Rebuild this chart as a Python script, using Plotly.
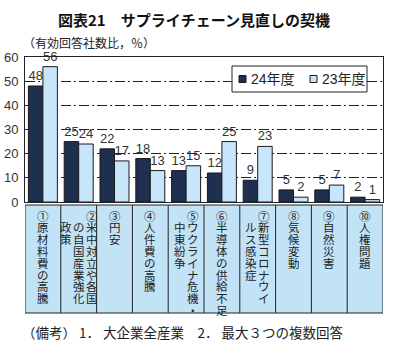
import plotly.graph_objects as go

# ---- data ----
label_cols = [
    ["①原材料費の高騰"],
    ["②米中対立や各国", "の自国産業強化", "政策"],
    ["③円安"],
    ["④人件費の高騰"],
    ["⑤ウクライナ危機・", "中東紛争"],
    ["⑥半導体の供給不足"],
    ["⑦新型コロナウイ", "ルス感染症"],
    ["⑧気候変動"],
    ["⑨自然災害"],
    ["⑩人権問題"],
]
fy24 = [48, 25, 22, 18, 13, 12, 9, 5, 5, 2]
fy23 = [56, 24, 17, 13, 15, 25, 23, 2, 7, 1]
series_names = ["24年度", "23年度"]
y_ticks = [0, 10, 20, 30, 40, 50, 60]
title_text = "図表21　サプライチェーン見直しの契機"
unit_text = "（有効回答社数比，％）"
note_text = "（備考） 1． 大企業全産業　2． 最大３つの複数回答"

# ---- layout constants ----
W, H = 401, 344
ML, MR, MT, MB = 25, 18, 57, 31
PLOT_H = H - MT - MB          # 256
PLOT_W = W - ML - MR          # 358
BAR_BOTTOM_PX = 202
TABLE_TOP_PX = 205

def py(ypix):
    return (H - MB - ypix) / PLOT_H

def px(xpix):
    return (xpix - ML) / PLOT_W

FONT = "Liberation Sans, Arial, Noto Sans CJK JP, sans-serif"
JFONT = "Noto Sans CJK JP, sans-serif"
DARK = "#1e2f4f"
LIGHT = "#c8e6f9"
TABLE = "#c2e2f6"
COLORS = [DARK, LIGHT]

x = list(range(len(fy24)))

fig = go.Figure()
for name, vals, col in zip(series_names, [fy24, fy23], COLORS):
    fig.add_trace(go.Bar(
        x=x, y=vals, name=name,
        marker=dict(color=col, line=dict(color="#1a1a1a", width=1)),
        text=[str(v) for v in vals], textposition="outside",
        textfont=dict(size=13, color="#333", family=FONT),
        cliponaxis=False, constraintext="none", showlegend=False,
    ))

# category table below the bars
shapes = [dict(type="rect", xref="x", yref="paper", x0=-0.5, x1=len(x) - 0.5,
               y0=py(H - MB), y1=py(TABLE_TOP_PX), fillcolor=TABLE,
               line=dict(color="#222", width=1), layer="below")]
for i in range(len(x) - 1):
    shapes.append(dict(type="line", xref="x", yref="paper", x0=i + 0.5, x1=i + 0.5,
                       y0=py(H - MB), y1=py(TABLE_TOP_PX),
                       line=dict(color="#222", width=1)))

annotations = []
unit_px = PLOT_W / len(x)
col_step = 13 / unit_px
row_step = 11.8
row0 = 215.5
for i, cols in enumerate(label_cols):
    n = len(cols)
    for j, s in enumerate(cols):
        cx = i + ((n - 1) / 2 - j) * col_step
        start = 0 if j == 0 else 1
        for r, ch in enumerate(s):
            annotations.append(dict(
                x=cx, y=py(row0 + (start + r) * row_step), xref="x", yref="paper",
                text=ch, showarrow=False, xanchor="center", yanchor="middle",
                height=12, borderpad=0,
                font=dict(size=11.5, color="#222", family=JFONT)))

# legend (boxed, compact)
LEG_X0, LEG_X1, LEG_Y0, LEG_Y1 = 232, 367, 66, 92
shapes.append(dict(type="rect", xref="paper", yref="paper",
                   x0=px(LEG_X0), x1=px(LEG_X1), y0=py(LEG_Y1), y1=py(LEG_Y0),
                   fillcolor="white", line=dict(color="#222", width=1)))
leg_cy = (LEG_Y0 + LEG_Y1) / 2
for k, (name, col) in enumerate(zip(series_names, COLORS)):
    sx = 239 + k * 71
    shapes.append(dict(type="rect", xref="paper", yref="paper",
                       x0=px(sx), x1=px(sx + 7), y0=py(leg_cy + 3.5), y1=py(leg_cy - 3.5),
                       fillcolor=col, line=dict(color="#1a1a1a", width=1)))
    annotations.append(dict(x=px(sx + 10), y=py(leg_cy), xref="paper", yref="paper",
                            text=name, showarrow=False, xanchor="left", yanchor="middle",
                            font=dict(size=14, color="#222", family=FONT)))

annotations += [
    dict(x=px(194), y=py(19), xref="paper", yref="paper", text="<b>" + title_text + "</b>",
         showarrow=False, xanchor="center", yanchor="middle",
         font=dict(size=15, color="#111", family=JFONT)),
    dict(x=px(21), y=py(42), xref="paper", yref="paper", text=unit_text,
         showarrow=False, xanchor="left", yanchor="middle",
         font=dict(size=12, color="#222", family=JFONT)),
    dict(x=px(20), y=py(332), xref="paper", yref="paper", text=note_text,
         showarrow=False, xanchor="left", yanchor="middle",
         font=dict(size=13.5, color="#222", family=JFONT)),
]

fig.update_layout(
    width=W, height=H,
    margin=dict(l=ML, r=MR, t=MT, b=MB, pad=0, autoexpand=False),
    paper_bgcolor="white", plot_bgcolor="white",
    barmode="group", bargap=0.19, bargroupgap=0,
    font=dict(family=FONT, size=13, color="#333"),
    showlegend=False,
    xaxis=dict(range=[-0.5, len(x) - 0.5], showticklabels=False, ticks="",
               showgrid=False, zeroline=False, showline=True, mirror=True,
               linecolor="#222", linewidth=1, fixedrange=True),
    yaxis=dict(range=[0, 60], domain=[py(BAR_BOTTOM_PX), 1], tickvals=y_ticks,
               showgrid=True, gridcolor="#222", gridwidth=1, griddash="10px,3px,2px,3px",
               zeroline=False, showline=True, mirror=True, linecolor="#222", linewidth=1,
               ticks="", tickfont=dict(size=13, color="#333", family=FONT),
               ticklabelstandoff=3),
    shapes=shapes, annotations=annotations,
)

fig.write_html("out.html")
